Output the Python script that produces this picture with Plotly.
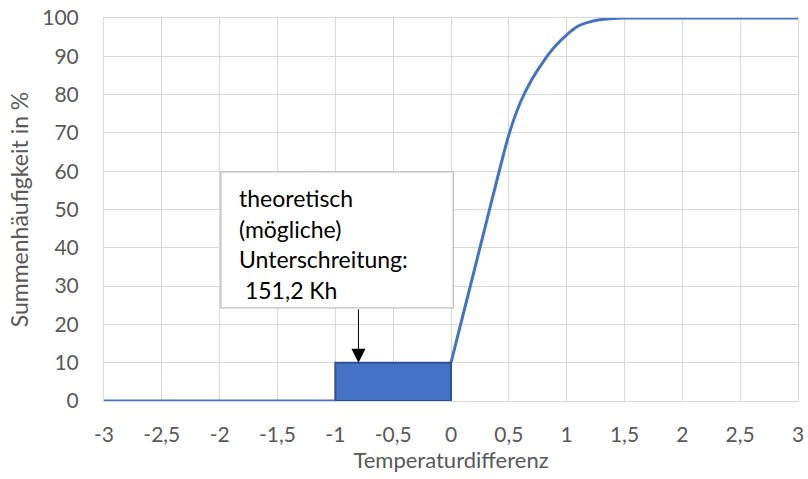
import plotly.graph_objects as go

# ---- data ----
flat_x = [-3, 0]
flat_y = [0, 0]
curve_x = [0, 0.1, 0.2, 0.3, 0.4, 0.5, 0.6, 0.7, 0.8, 0.9, 1.0, 1.1, 1.2, 1.3, 1.4, 1.5, 2.0, 2.5, 3.0]
curve_y = [10, 22, 34, 46, 58, 69.5, 78, 84, 88.7, 92.6, 95.6, 97.9, 99.0, 99.6, 99.9, 100, 100, 100, 100]
rect_x = [-1, 0]
rect_y = [0, 10]
x_ticks = [-3, -2.5, -2, -1.5, -1, -0.5, 0, 0.5, 1, 1.5, 2, 2.5, 3]
x_tick_text = ["-3", "-2,5", "-2", "-1,5", "-1", "-0,5", "0", "0,5", "1", "1,5", "2", "2,5", "3"]
y_ticks = [0, 10, 20, 30, 40, 50, 60, 70, 80, 90, 100]
label_lines = ["theoretisch", "(mögliche)", "Unterschreitung:", " 151,2 Kh"]
box_x = [-1.99, 0.02]
box_y = [24.3, 59.8]
arrow_x = -0.8

BLUE = "#4472C4"
GRID = "#D9D9D9"
TXT = "#595959"
FONT = "Lato, Carlito, Calibri, sans-serif"

fig = go.Figure()
fig.add_trace(go.Scatter(x=flat_x, y=flat_y, mode="lines",
                         line=dict(color=BLUE, width=3), showlegend=False, hoverinfo="skip"))
fig.add_trace(go.Scatter(x=curve_x, y=curve_y, mode="lines",
                         line=dict(color=BLUE, width=3, shape="spline", smoothing=0.8),
                         showlegend=False, hoverinfo="skip"))

# blue rectangle
fig.add_shape(type="rect", xref="x", yref="y", x0=rect_x[0], x1=rect_x[1], y0=rect_y[0], y1=rect_y[1],
              fillcolor=BLUE, line=dict(color="#2F528F", width=2), layer="above")
# text box
fig.add_shape(type="rect", xref="x", yref="y", x0=box_x[0], x1=box_x[1], y0=box_y[0], y1=box_y[1],
              fillcolor="white", line=dict(color="#BFBFBF", width=1.3), layer="above")

# arrow
fig.add_annotation(x=arrow_x, y=rect_y[1], ax=arrow_x, ay=box_y[0], xref="x", yref="y",
                   axref="x", ayref="y", text="", showarrow=True, arrowhead=2, arrowsize=2.8,
                   arrowwidth=1, arrowcolor="black")

# text lines
y_top = box_y[1]
step = 8.0
for i, line in enumerate(label_lines):
    fig.add_annotation(x=box_x[0] + 0.14, y=y_top - 6.8 - step * i, xref="x", yref="y",
                       text=line, showarrow=False, xanchor="left", yanchor="middle",
                       font=dict(family=FONT, size=23, color="black"))

fig.update_layout(
    width=808, height=479,
    margin=dict(l=104, r=10, t=18, b=78, autoexpand=False),
    plot_bgcolor="white", paper_bgcolor="white",
    font=dict(family=FONT, size=21, color=TXT),
    xaxis=dict(range=[-3, 3], tickvals=x_ticks, ticktext=x_tick_text, showgrid=True,
               gridcolor=GRID, gridwidth=1, zeroline=False, showline=True, linecolor=GRID,
               mirror=True, ticks="", ticklabelstandoff=15, automargin=False,
               tickfont=dict(size=21, color=TXT),
               title=dict(text="Temperaturdifferenz", font=dict(size=22, color=TXT), standoff=0)),
    yaxis=dict(range=[0, 100], tickvals=y_ticks, showgrid=True, gridcolor=GRID, gridwidth=1,
               zeroline=False, showline=True, linecolor=GRID, mirror=True, ticks="",
               ticklabelstandoff=20, automargin=False, tickfont=dict(size=21, color=TXT),
               title=dict(text="Summenhäufigkeit in %", font=dict(size=23, color=TXT), standoff=7)),
)

fig.write_html("out.html")
